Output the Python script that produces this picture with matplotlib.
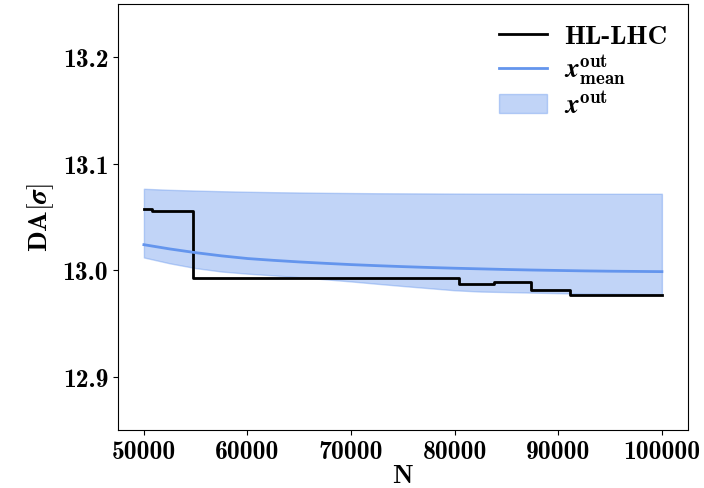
import matplotlib
matplotlib.use("Agg")
import matplotlib.pyplot as plt

plt.rcParams['mathtext.fontset'] = 'cm'
plt.rcParams['font.family'] = ['cmb10', 'DejaVu Serif']

# HL-LHC step data
step_N = [50000, 50800, 54700, 80400, 83800, 87400, 91100, 100000]
step_DA = [13.0575, 13.056, 12.9925, 12.987, 12.9885, 12.981, 12.9765, 12.9765]

# model curves
N = [50000, 52500, 55000, 57500, 60000, 62500, 65000, 67500, 70000, 72500, 75000,
     77500, 80000, 82500, 85000, 87500, 90000, 92500, 95000, 97500, 100000]
mean = [13.024, 13.020, 13.0165, 13.0135, 13.011, 13.0093, 13.0078, 13.0065, 13.0053,
        13.0043, 13.0034, 13.0026, 13.0019, 13.0013, 13.0007, 13.0002, 12.9998,
        12.9994, 12.9991, 12.9989, 12.9987]
upper = [13.0765, 13.0755, 13.0748, 13.0742, 13.0737, 13.0733, 13.073, 13.0727,
         13.0725, 13.0723, 13.0722, 13.0721, 13.072, 13.0719, 13.0719, 13.0718,
         13.0718, 13.0718, 13.0718, 13.0718, 13.0718]
lower = [13.012, 13.0065, 13.002, 12.9988, 12.9968, 12.9952, 12.9935, 12.9915,
         12.9895, 12.9873, 12.9852, 12.9832, 12.9812, 12.980, 12.9795, 12.979,
         12.9785, 12.978, 12.978, 12.9777, 12.9775]

xticks = [50000, 60000, 70000, 80000, 90000, 100000]
yticks = [12.9, 13.0, 13.1, 13.2]

fig = plt.figure(figsize=(7.04, 4.89), dpi=100)
ax = fig.add_axes([0.1676, 0.1186, 0.8094, 0.8712])

ax.plot(step_N, step_DA, drawstyle='steps-post', color='black', lw=2,
        label='HL-LHC')
ax.plot(N, mean, color='cornflowerblue', lw=2,
        label=r'$\boldsymbol{x}^{\mathbf{out}}_{\mathbf{mean}}$')
ax.fill_between(N, lower, upper, color='cornflowerblue', alpha=0.4, lw=1,
                label=r'$\boldsymbol{x}^{\mathbf{out}}$')

ax.set_xlim(47500, 102500)
ax.set_ylim(12.85, 13.25)
ax.set_xticks(xticks)
ax.set_xticklabels([str(v) for v in xticks])
ax.set_yticks(yticks)
ax.set_yticklabels(['%.1f' % v for v in yticks])
ax.tick_params(labelsize=18.5)
ax.set_xlabel('N', fontsize=19, labelpad=1)
ax.set_ylabel(r'DA$[\boldsymbol{\sigma}]$', fontsize=19.5, labelpad=5)

ax.legend(loc='upper right', frameon=False, fontsize=19.5, handlelength=1.75,
          handletextpad=0.65, labelspacing=0.15, borderaxespad=0.35)

fig.savefig('out.png', dpi=100)
